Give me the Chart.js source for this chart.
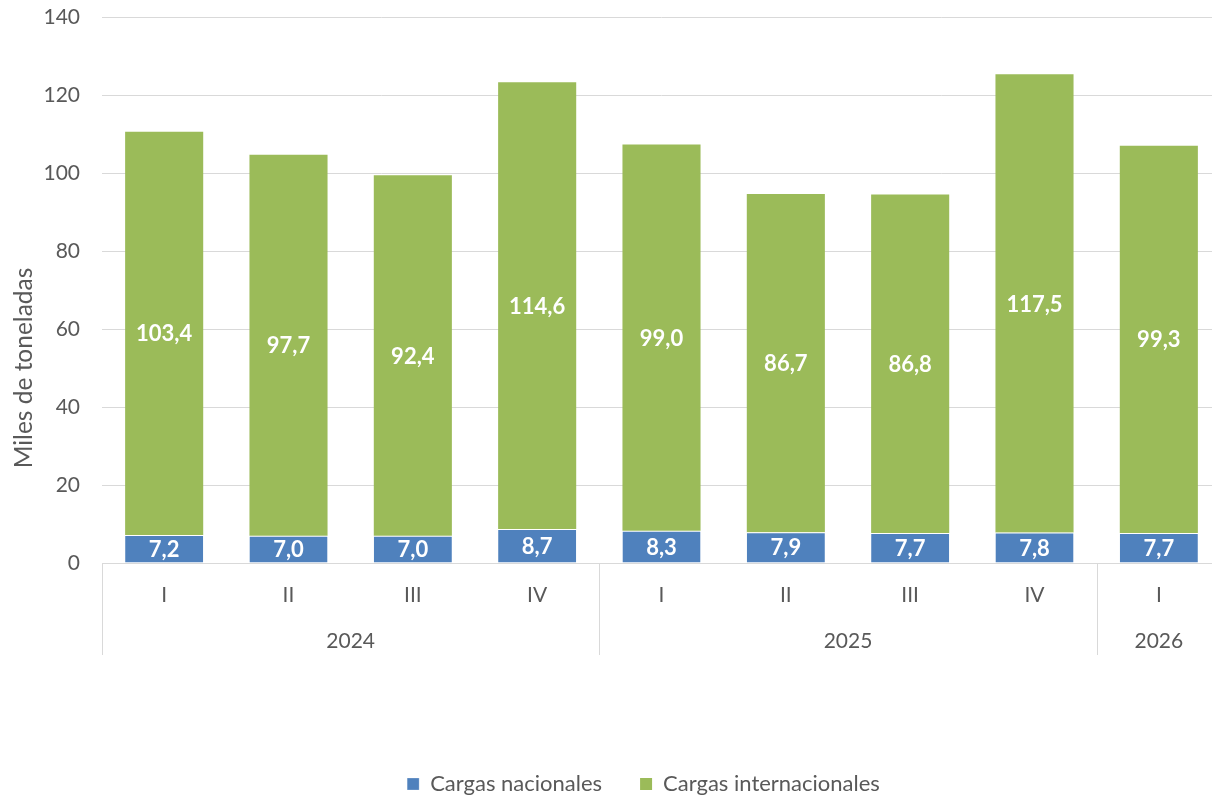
<!DOCTYPE html>
<html><head><meta charset="utf-8">
<script src="https://cdn.jsdelivr.net/npm/chart.js@4.4.1/dist/chart.umd.min.js"></script>
<style>html,body{margin:0;padding:0;overflow:hidden;background:#fff;width:1212px;height:797px}</style>
</head><body>
<canvas id="c" width="1221" height="797" style="display:block;width:1221px;height:797px"></canvas>
<script>
const quarters = ['I','II','III','IV','I','II','III','IV','I'];
const yearLabels = ['2024','2025','2026'];
const yearSpans = [4,4,1];
const nacionales = [7.2,7.0,7.0,8.7,8.3,7.9,7.7,7.8,7.7];
const internacionales = [103.4,97.7,92.4,114.6,99.0,86.7,86.8,117.5,99.3];
const seriesNames = ['Cargas nacionales','Cargas internacionales'];
const yTitle = 'Miles de toneladas';
const yMax = 140, yStep = 20;

const FONT = 'Lato';
const TXT = '#595959';
const GRID = '#D9D9D9';

const fmt = v => v.toFixed(1).replace('.', ',');

const valueLabels = {
  id: 'valueLabels',
  afterDatasetsDraw(chart) {
    const ctx = chart.ctx;
    ctx.save();
    ctx.font = 'bold 22px ' + FONT;
    ctx.fillStyle = '#ffffff';
    ctx.textAlign = 'center';
    ctx.textBaseline = 'middle';
    chart.data.datasets.forEach((ds, di) => {
      const meta = chart.getDatasetMeta(di);
      meta.data.forEach((el, i) => {
        const y = (el.y + el.base) / 2;
        ctx.fillText(fmt(ds.data[i]), el.x, y + 1);
      });
    });
    ctx.restore();
  }
};

const yearAxis = {
  id: 'yearAxis',
  afterLayout(chart) {
    const lg = chart.legend;
    if (lg) { lg.left += 33; lg.right += 33; }
  },
  afterDraw(chart) {
    const ctx = chart.ctx;
    const xs = chart.scales.x;
    const bottom = chart.chartArea.bottom;
    const half = (xs.getPixelForValue(1) - xs.getPixelForValue(0)) / 2;
    ctx.save();
    ctx.strokeStyle = GRID;
    ctx.lineWidth = 1;
    ctx.font = '21px ' + FONT;
    ctx.fillStyle = TXT;
    ctx.textAlign = 'center';
    ctx.textBaseline = 'middle';
    let start = 0;
    const bounds = [];
    yearSpans.forEach((n, gi) => {
      const l = xs.getPixelForValue(start) - half;
      const r = xs.getPixelForValue(start + n - 1) + half;
      bounds.push(l);
      ctx.fillText(yearLabels[gi], (l + r) / 2, bottom + 78);
      start += n;
    });
    bounds.forEach(x => {
      const px = Math.round(x) + 0.5;
      ctx.beginPath();
      ctx.moveTo(px, bottom);
      ctx.lineTo(px, bottom + 92);
      ctx.stroke();
    });
    // y axis title
    ctx.translate(24, 368);
    ctx.rotate(-Math.PI / 2);
    ctx.font = '24.5px ' + FONT;
    ctx.fillText(yTitle, 0, 0);
    ctx.restore();
  }
};

new Chart(document.getElementById('c'), {
  type: 'bar',
  data: {
    labels: quarters,
    datasets: [
      { label: seriesNames[0], data: nacionales, backgroundColor: '#4F81BD',
        borderColor: '#ffffff', borderWidth: {top: 1, left: 0, right: 0, bottom: 0}, borderSkipped: false },
      { label: seriesNames[1], data: internacionales, backgroundColor: '#9BBB59',
        borderColor: '#ffffff', borderWidth: 0 }
    ]
  },
  options: {
    responsive: false,
    animation: false,
    devicePixelRatio: 1,
    layout: { padding: { top: 17, left: 0, right: 0, bottom: -8 } },
    datasets: { bar: { barPercentage: 1, categoryPercentage: 0.628 } },
    plugins: {
      legend: {
        position: 'bottom',
        labels: { font: { family: FONT, size: 22 }, color: TXT, boxWidth: 12, boxHeight: 12, padding: 38 }
      },
      tooltip: { enabled: false }
    },
    scales: {
      x: {
        stacked: true,
        grid: { display: false, drawTicks: false },
        border: { display: true, color: GRID },
        ticks: { font: { family: FONT, size: 21 }, color: TXT, padding: 20, maxRotation: 0 },
        afterFit(s) { s.height = 172; }
      },
      y: {
        stacked: true,
        min: 0, max: yMax,
        grid: { color: GRID, lineWidth: 1, drawTicks: false },
        border: { display: false },
        ticks: { stepSize: yStep, font: { family: FONT, size: 21 }, color: TXT, padding: 22 },
        title: { display: false, text: yTitle },
        afterFit(s) { s.width = 102; s.paddingTop = 0; s.paddingBottom = 0; }
      }
    }
  },
  plugins: [valueLabels, yearAxis]
});
</script>
</body></html>
